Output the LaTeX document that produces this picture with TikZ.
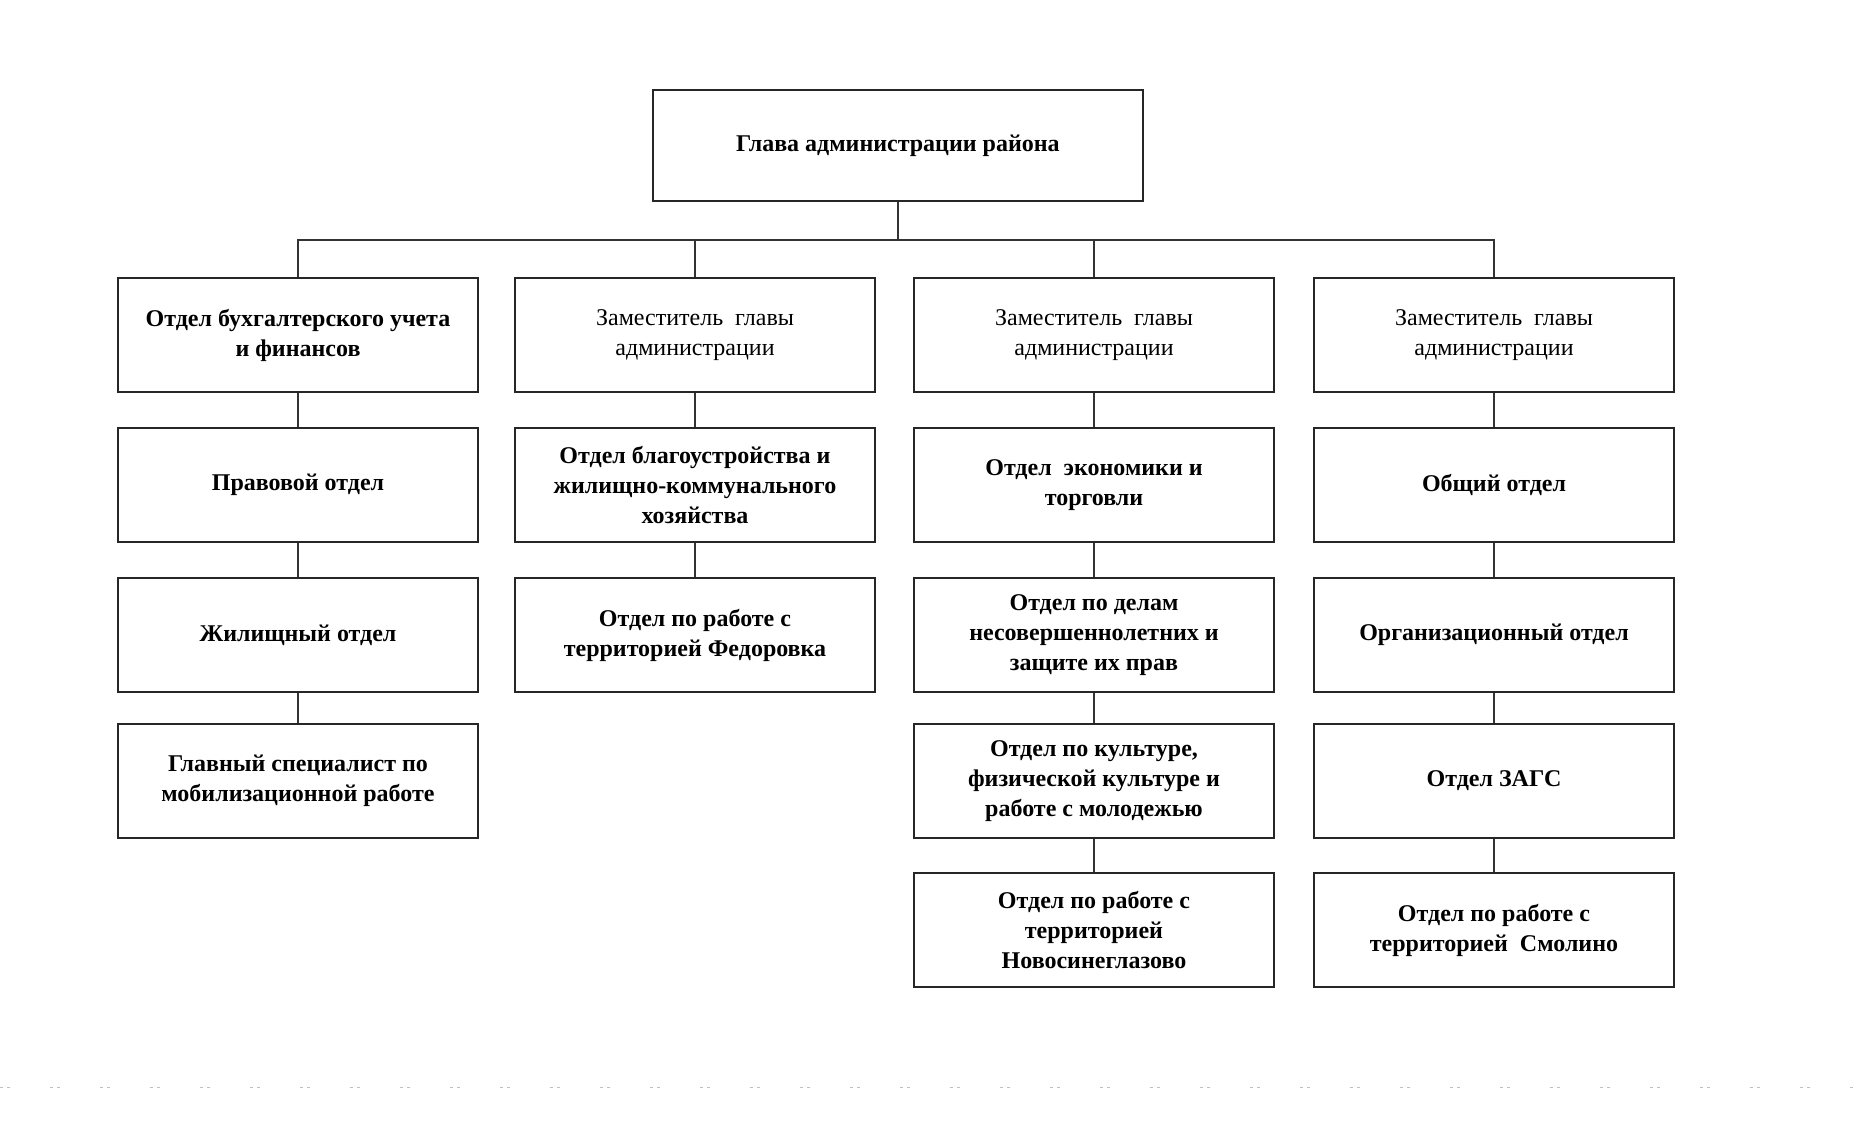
\documentclass[tikz,border=0pt]{standalone}
\usepackage{fontspec}
\setmainfont{Liberation Serif}
\begin{document}
\begin{tikzpicture}[x=1pt,y=-1pt,
  box/.style={draw=black!85, line width=2pt, fill=white, minimum width=360pt, minimum height=114pt,
    align=center, inner sep=4pt, font=\fontsize{24}{30}\selectfont\bfseries, text=black},
  dep/.style={box, font=\fontsize{24}{30}\selectfont},
  link/.style={draw=black!80, line width=2pt}]
\useasboundingbox (0,0) rectangle (1856,1120);
\fill[white] (0,0) rectangle (1856,1120);

% top
\node[box, minimum width=490pt, minimum height=111pt] (head) at (898,145.5) {Глава администрации района};

% column 1
\node[box] (a1) at (298,335) {Отдел бухгалтерского учета\\и финансов};
\node[box] (a2) at (298,485) {Правовой отдел};
\node[box] (a3) at (298,635) {Жилищный отдел};
\node[box] (a4) at (298,781) {Главный специалист по\\мобилизационной работе};

% column 2
\node[dep] (b1) at (695,335) {Заместитель \ главы\\администрации};
\node[box] (b2) at (695,485) {Отдел благоустройства и\\жилищно-коммунального\\хозяйства};
\node[box] (b3) at (695,635) {Отдел по работе с\\территорией Федоровка};

% column 3
\node[dep] (c1) at (1094,335) {Заместитель \ главы\\администрации};
\node[box] (c2) at (1094,485) {Отдел \ экономики и\\торговли};
\node[box] (c3) at (1094,635) {Отдел по делам\\несовершеннолетних и\\защите их прав};
\node[box] (c4) at (1094,781) {Отдел по культуре,\\физической культуре и\\работе с молодежью};
\node[box] (c5) at (1094,930) {Отдел по работе с\\территорией\\Новосинеглазово};

% column 4
\node[dep] (d1) at (1494,335) {Заместитель \ главы\\администрации};
\node[box] (d2) at (1494,485) {Общий отдел};
\node[box] (d3) at (1494,635) {Организационный отдел};
\node[box] (d4) at (1494,781) {Отдел ЗАГС};
\node[box] (d5) at (1494,930) {Отдел по работе с\\территорией \ Смолино};

% bus
\coordinate (bus) at (898,240);
\draw[link] (head.south) -- (bus);
\draw[link] (a1.north) |- (bus) -| (d1.north);
\draw[link] (b1.north) -- (b1.north |- bus);
\draw[link] (c1.north) -- (c1.north |- bus);

% vertical chains
\draw[link] (a1) -- (a2); \draw[link] (a2) -- (a3); \draw[link] (a3) -- (a4);
\draw[link] (b1) -- (b2); \draw[link] (b2) -- (b3);
\draw[link] (c1) -- (c2); \draw[link] (c2) -- (c3); \draw[link] (c3) -- (c4); \draw[link] (c4) -- (c5);
\draw[link] (d1) -- (d2); \draw[link] (d2) -- (d3); \draw[link] (d3) -- (d4); \draw[link] (d4) -- (d5);

% faint scan line at bottom
\draw[black!25, line width=1pt, dash pattern=on 3pt off 4pt on 3pt off 40pt] (0,1087) -- (1856,1087);
\end{tikzpicture}
\end{document}
